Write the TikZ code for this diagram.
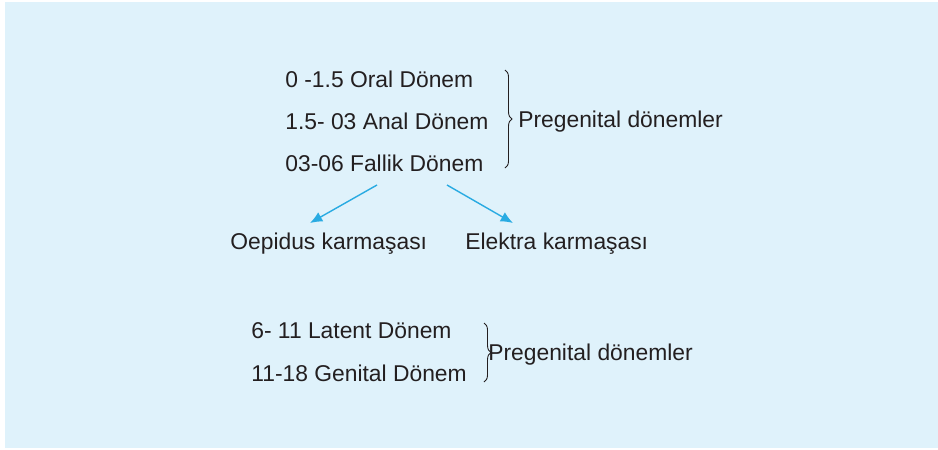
\documentclass[tikz,border=0pt]{standalone}
\usepackage{fontspec}
\setmainfont{Liberation Sans}
\usetikzlibrary{decorations.pathreplacing,arrows.meta}
\definecolor{panel}{RGB}{223,242,251}
\definecolor{ink}{RGB}{35,31,32}
\definecolor{arrowblue}{RGB}{41,171,226}
\tikzset{
  lbl/.style={anchor=base west, inner sep=0pt, text=ink, font=\fontsize{13}{15}\selectfont},
  bracket/.style={draw=ink, line width=0.5pt, decorate, decoration={brace, amplitude=4pt}},
  pointer/.style={draw=arrowblue, line width=0.8pt, -{Latex[length=7pt,width=6pt]}}
}
\begin{document}
\begin{tikzpicture}[x=0.02cm,y=-0.02cm]
\useasboundingbox (0,0) rectangle (938,450);
\fill[panel] (5,2) rectangle (938,448);
% early stages
\foreach[count=\i] \t/\y in {0 -1.5 Oral Dönem/87, 1.5- 03 Anal Dönem/129, 03-06 Fallik Dönem/171}
{
    \node[lbl] (s\i) at (285,\y) {\t};
}
\draw[bracket] (505,70) -- (505,168);
\node[lbl] (pre1) at (518,127) {Pregenital dönemler};
% complexes
\node[lbl] (oed) at (230,249) {Oepidus karmaşası};
\node[lbl] (ele) at (465,249) {Elektra karmaşası};
\coordinate (a1) at (377,185);
\coordinate (a2) at (447,185);
\coordinate (b1) at (310,223);
\coordinate (b2) at (513,223);
\draw[pointer] (a1) -- (b1);
\draw[pointer] (a2) -- (b2);
% later stages
\foreach[count=\i] \t/\y in {6- 11 Latent Dönem/338, 11-18 Genital Dönem/381}
{
    \node[lbl] (t\i) at (251,\y) {\t};
}
\draw[bracket] (484,323) -- (484,382);
\node[lbl] (pre2) at (488,360) {Pregenital dönemler};
\end{tikzpicture}
\end{document}
